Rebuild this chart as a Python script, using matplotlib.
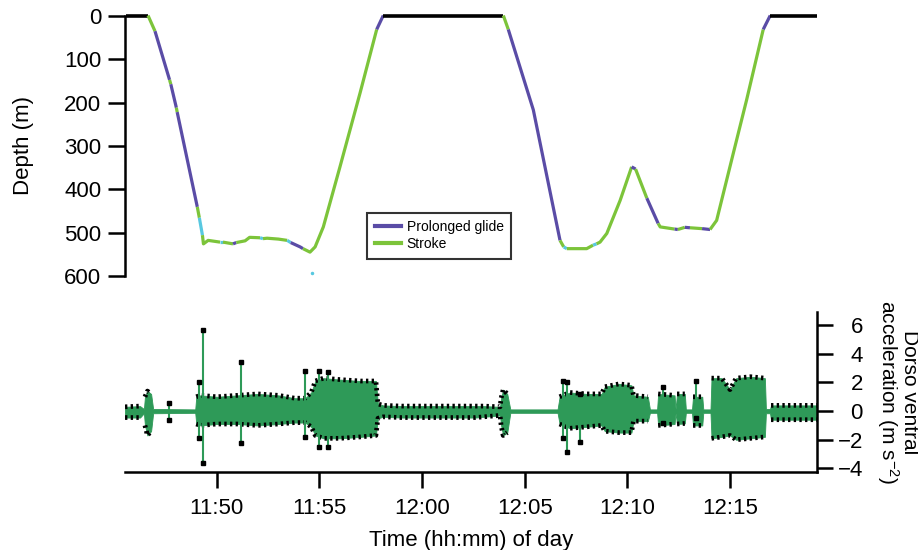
import numpy as np
import pandas as pd
import matplotlib
matplotlib.use("Agg")
import matplotlib.pyplot as plt
import matplotlib.dates as mdates
from matplotlib.lines import Line2D

plt.rcParams['font.family'] = ['Liberation Sans', 'DejaVu Sans']
plt.rcParams['mathtext.default'] = 'regular'

# time is given in minutes after 11:45
T0 = pd.Timestamp('2015-01-01 11:45:00')

# dive profile, state = behaviour of the segment that starts at that point
depth_min = [0.58, 1.65, 1.99, 2.70, 2.76, 3.03, 3.07, 4.05, 4.15, 4.30,
             4.35, 4.58, 5.16, 5.30, 5.79, 5.95, 6.38, 6.60, 7.11, 7.25,
             7.45, 8.00, 8.43, 8.60, 9.06, 9.20, 9.54, 9.79, 10.19, 11.00,
             11.98, 12.79, 13.11, 18.96, 19.20, 20.42, 21.72, 21.90, 22.05, 23.02,
             23.33, 23.50, 23.67, 24.00, 24.65, 25.21, 25.40, 25.95, 26.50, 26.60,
             27.30, 27.46, 27.80, 28.05, 28.64, 29.03, 29.35, 30.16, 30.81, 31.62,
             31.96, 34.22]
depth_m = [0, 0, 36, 148, 158, 212, 222, 440, 465, 505,
           525, 517, 521, 521, 525, 522, 518, 510, 511, 513,
           512, 514, 517, 522, 532, 536, 544, 532, 486, 348,
           178, 32, 0, 0, 32, 217, 517, 532, 536, 536,
           528, 525, 521, 501, 425, 348, 353, 420, 478, 486,
           491, 492, 487, 488, 490, 492, 471, 317, 194, 32,
           0, 0]
depth_state = ['surf', 'stroke', 'glide', 'stroke', 'glide', 'stroke', 'glide', 'stroke', 'other', 'stroke',
               'stroke', 'stroke', 'other', 'stroke', 'glide', 'stroke', 'stroke', 'stroke', 'other', 'stroke',
               'stroke', 'stroke', 'other', 'glide', 'glide', 'stroke', 'stroke', 'stroke', 'stroke', 'stroke',
               'stroke', 'glide', 'surf', 'stroke', 'glide', 'glide', 'stroke', 'other', 'stroke', 'stroke',
               'other', 'stroke', 'stroke', 'stroke', 'stroke', 'glide', 'stroke', 'glide', 'stroke', 'stroke',
               'glide', 'stroke', 'glide', 'stroke', 'glide', 'stroke', 'stroke', 'stroke', 'stroke', 'glide',
               'surf', 'surf']
stray_min = [9.63]
stray_m = [591]

# dorso-ventral acceleration: envelope of the signal
acc_min = [0.53, 1.26, 1.45, 1.50, 1.62, 1.80, 1.90, 3.95, 4.00, 4.20,
           5.00, 6.00, 7.00, 8.00, 8.80, 9.30, 9.60, 9.80, 10.20, 11.00,
           12.00, 12.75, 12.85, 13.10, 14.00, 17.60, 18.00, 18.80, 18.85, 18.95,
           19.15, 19.30, 21.60, 21.70, 22.20, 23.00, 23.75, 23.90, 24.60, 25.20,
           25.30, 26.00, 26.10, 26.45, 26.50, 27.30, 27.35, 27.42, 27.80, 27.85,
           28.15, 28.20, 28.65, 28.70, 29.05, 29.10, 29.60, 30.00, 30.30, 31.00,
           31.70, 31.75, 31.95, 32.00, 34.24]
acc_hi = [0.30, 0.35, 0.15, 1.00, 1.40, 1.20, 0.15, 0.12, 1.00, 1.10,
          1.00, 1.10, 1.20, 1.10, 0.90, 0.90, 1.30, 2.10, 2.30, 2.20,
          2.10, 2.10, 0.50, 0.40, 0.35, 0.35, 0.35, 0.30, 0.90, 1.50,
          1.20, 0.12, 0.12, 1.00, 1.30, 1.20, 1.20, 1.70, 1.90, 1.80,
          1.10, 1.00, 0.12, 0.12, 1.20, 1.10, 0.15, 1.20, 1.20, 0.12,
          0.12, 1.00, 1.00, 0.12, 0.12, 2.30, 2.30, 1.50, 2.30, 2.40,
          2.30, 0.15, 0.15, 0.40, 0.40]
acc_lo = [-0.45, -0.45, -0.15, -1.00, -1.70, -1.40, -0.15, -0.12, -0.90, -1.00,
          -0.90, -0.90, -1.00, -0.90, -0.80, -0.80, -1.10, -1.70, -1.90, -1.90,
          -1.80, -1.70, -0.50, -0.40, -0.45, -0.45, -0.40, -0.30, -1.00, -1.70,
          -1.50, -0.12, -0.12, -0.90, -1.20, -1.10, -1.00, -1.40, -1.50, -1.50,
          -0.70, -0.70, -0.12, -0.12, -1.00, -0.90, -0.15, -0.90, -0.86, -0.12,
          -0.12, -1.00, -1.00, -0.12, -0.12, -1.90, -1.80, -1.70, -2.00, -1.90,
          -1.80, -0.15, -0.15, -0.60, -0.60]

# isolated spikes
spike_min = [2.68, 4.14, 4.35, 6.18, 9.30, 9.98, 10.42, 21.85, 22.05, 22.70, 26.74, 28.33]
spike_top = [0.60, 2.00, 5.63, 3.40, 2.77, 2.80, 2.70, 2.10, 2.00, 1.20, 1.67, 2.10]
spike_bot = [-0.60, -1.90, -3.63, -2.25, -1.80, -2.50, -2.50, -1.90, -2.86, -2.16, -0.80, -0.50]

colors = {'surf': 'black', 'stroke': '#7cc43a', 'glide': '#5a4ca6', 'other': '#58c8e0'}
acc_green = '#2e9a58'


def clock(minutes):
    return (T0 + pd.to_timedelta(np.asarray(minutes, float), unit='min')).to_numpy()


fig = plt.figure(figsize=(9.18, 5.5), dpi=100)
ax1 = fig.add_axes([0.1362, 0.4973, 0.7538, 0.4745])
ax2 = fig.add_axes([0.1362, 0.1418, 0.7538, 0.2918])

xlim = clock([0.53, 34.24])

# --- depth ---
t = clock(depth_min)
d = np.array(depth_m, float)
start = 0
for i in range(1, len(depth_state) + 1):
    if i == len(depth_state) or depth_state[i] != depth_state[start]:
        end = min(i, len(t) - 1)
        lw = 2.6 if depth_state[start] == 'surf' else 2.3
        ax1.plot(t[start:end + 1], d[start:end + 1], color=colors[depth_state[start]],
                 lw=lw, solid_capstyle='butt', clip_on=False, zorder=3)
        start = i
ax1.plot(clock(stray_min), stray_m, 'o', color=colors['other'], ms=1.5)

ax1.set_xlim(xlim)
ax1.set_ylim(600, 0)
ax1.set_yticks(range(0, 601, 100))
ax1.xaxis.set_visible(False)
for s in ['top', 'right', 'bottom']:
    ax1.spines[s].set_visible(False)
ax1.spines['left'].set_linewidth(1.8)
ax1.tick_params(axis='y', direction='out', length=12, width=1.8, labelsize=16, pad=5)
ax1.set_ylabel('Depth (m)', fontsize=16, labelpad=22)

handles = [Line2D([], [], color=colors['glide'], lw=3),
           Line2D([], [], color=colors['stroke'], lw=3)]
leg = ax1.legend(handles, ['Prolonged glide', 'Stroke'], loc='upper left',
                 bbox_to_anchor=(0.35, 0.245), fontsize=10, frameon=True, fancybox=False,
                 handlelength=1.9, handletextpad=0.4, labelspacing=0.2, borderpad=0.55,
                 borderaxespad=0)
leg.get_frame().set_edgecolor('black')
leg.get_frame().set_linewidth(1.5)

# --- acceleration ---
ta = clock(acc_min)
hi = np.array(acc_hi)
lo = np.array(acc_lo)
ax2.fill_between(ta, lo, hi, color=acc_green, lw=0.6, edgecolor=acc_green)
busy = (hi - lo) > 0.5
ax2.plot(ta, np.where(busy, hi, np.nan), color='black', lw=3.4, ls=(0, (0.5, 0.7)))
ax2.plot(ta, np.where(busy, lo, np.nan), color='black', lw=3.4, ls=(0, (0.5, 0.7)))

ts = clock(spike_min)
ax2.vlines(ts, spike_bot, spike_top, color=acc_green, lw=1.5)
ax2.plot(ts, spike_top, 's', color='black', ms=3.5)
ax2.plot(ts, spike_bot, 's', color='black', ms=3.5)

ax2.set_xlim(xlim)
ax2.set_ylim(-4.25, 6.95)
ax2.set_yticks(range(-4, 7, 2))
ax2.yaxis.tick_right()
for s in ['top', 'left']:
    ax2.spines[s].set_visible(False)
ax2.spines['right'].set_linewidth(1.8)
ax2.spines['bottom'].set_linewidth(1.8)
ax2.tick_params(axis='y', direction='out', length=11.5, width=1.8, labelsize=16, pad=21.5)
for lab in ax2.get_yticklabels():
    lab.set_horizontalalignment('right')
ax2.tick_params(axis='x', direction='out', length=11.5, width=1.8, labelsize=16, pad=7)
ax2.xaxis.set_major_locator(mdates.MinuteLocator(byminute=range(0, 60, 5)))
ax2.xaxis.set_major_formatter(mdates.DateFormatter('%H:%M'))
ax2.set_xlabel('Time (hh:mm) of day', fontsize=16, labelpad=8)
ax2.text(1.1156, 0.498, 'Dorso ventral\nacceleration (m s$^{-2}$)', transform=ax2.transAxes,
         rotation=-90, ha='center', va='center', fontsize=15, linespacing=1.0)

fig.savefig('out.png', dpi=100)
